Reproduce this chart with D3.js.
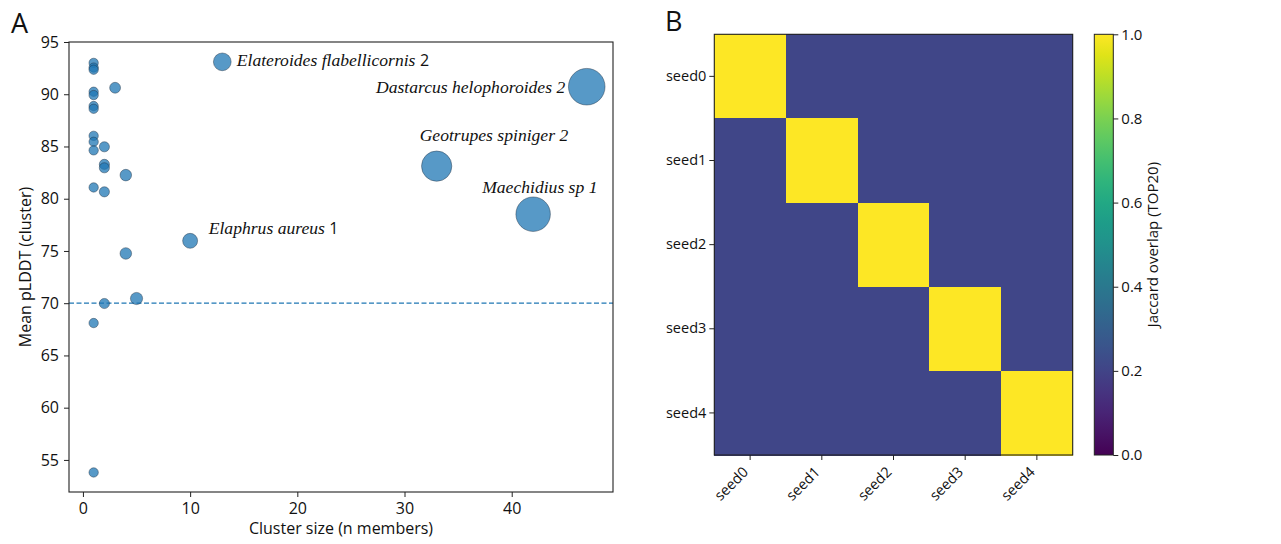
<!DOCTYPE html>
<html>
<head>
<meta charset="utf-8">
<script src="https://cdn.jsdelivr.net/npm/d3@7"></script>
<style>
  html, body { margin: 0; padding: 0; background: #fff; }
  svg { display: block; }
  text { font-family: "Open Sans", "Noto Sans", sans-serif; fill: #111; }
</style>
</head>
<body>
<svg id="chart" width="1281" height="544"></svg>
<script>
// ---------------- DATA ----------------
// Panel A: cluster size vs mean pLDDT
const clusterSize = [1, 1, 1, 1, 1, 1, 1, 1, 1, 1, 1, 1, 1,
                     2, 2, 2, 2, 2, 3, 4, 4, 5, 10, 13, 33, 42, 47];
const meanPLDDT   = [93.0, 92.55, 92.35, 90.24, 89.92, 88.87, 88.61, 86.02, 85.45, 84.63, 81.08, 68.1, 53.8,
                     84.97, 83.29, 82.96, 80.66, 69.97, 90.62, 82.26, 74.76, 70.45, 75.97, 93.1, 83.12, 78.52, 90.72];
const threshold = 70;
const xTicks = [0, 10, 20, 30, 40];
const yTicks = [55, 60, 65, 70, 75, 80, 85, 90, 95];
// annotated clusters (name, count suffix, cluster size, pLDDT)
const labelNames  = ["Elateroides flabellicornis", "Dastarcus helophoroides", "Geotrupes spiniger", "Maechidius sp", "Elaphrus aureus"];
const labelCounts = ["2", "2", "2", "1", "1"];
const labelSizes  = [13, 47, 33, 42, 10];
const labelPLDDT  = [93.1, 90.72, 83.12, 78.52, 75.97];

// Panel B: Jaccard overlap matrix
const seeds = ["seed0", "seed1", "seed2", "seed3", "seed4"];
const row0 = [1.0, 0.21, 0.21, 0.21, 0.21];
const row1 = [0.21, 1.0, 0.21, 0.21, 0.21];
const row2 = [0.21, 0.21, 1.0, 0.21, 0.21];
const row3 = [0.21, 0.21, 0.21, 1.0, 0.21];
const row4 = [0.21, 0.21, 0.21, 0.21, 1.0];
const cbTicks = [0.0, 0.2, 0.4, 0.6, 0.8, 1.0];

// ---------------- STYLE / LAYOUT ----------------
const svg = d3.select("#chart");
const A = {left: 69, right: 613, top: 42, bottom: 492};
const B = {left: 714.3, right: 1072.7, top: 34.3, bottom: 455};
const CB = {left: 1094.3, right: 1113.3};
const pointFill = "#1f77b4";
const tickFont = 16;
// label layout: [dx, dy, anchor, suffixUpright]
const labelLayout = [
  [14.5, 3.8, "start", true],
  [-21.5, 5.8, "end", false],
  [-17, -24.8, "start", false],
  [-51, -21.2, "start", false],
  [18.6, -6.5, "start", true]
];

// ---------------- PANEL A ----------------
const x = d3.scaleLinear().domain([-1.3, 49.45]).range([A.left, A.right]);
const y = d3.scaleLinear().domain([51.93, 95]).range([A.bottom, A.top]);
const rArea = d3.scaleLinear().domain([1, 10, 47]).range([22, 56, 335]);
const r = n => Math.sqrt(rArea(n));

const gA = svg.append("g");

// threshold line
gA.append("line")
  .attr("x1", A.left).attr("x2", A.right)
  .attr("y1", y(threshold)).attr("y2", y(threshold))
  .attr("stroke", pointFill).attr("stroke-width", 1.3)
  .attr("stroke-dasharray", "5,2.5");

// points
const pts = clusterSize.map((n, i) => ({n, v: meanPLDDT[i]}));
gA.append("g").selectAll("circle").data(pts).join("circle")
  .attr("cx", d => x(d.n)).attr("cy", d => y(d.v))
  .attr("r", d => r(d.n))
  .attr("fill", pointFill).attr("fill-opacity", 0.75)
  .attr("stroke", "#1a2a3a").attr("stroke-opacity", 0.7).attr("stroke-width", 0.6);

// frame
gA.append("rect")
  .attr("x", A.left).attr("y", A.top)
  .attr("width", A.right - A.left).attr("height", A.bottom - A.top)
  .attr("fill", "none").attr("stroke", "#222").attr("stroke-width", 1.1);

// axes
const xAxis = d3.axisBottom(x).tickValues(xTicks).tickSize(5).tickPadding(6).tickSizeOuter(0);
const gx = gA.append("g").attr("transform", `translate(0,${A.bottom})`).call(xAxis);
const yAxis = d3.axisLeft(y).tickValues(yTicks).tickSize(5).tickPadding(5).tickSizeOuter(0);
const gy = gA.append("g").attr("transform", `translate(${A.left},0)`).call(yAxis);
[gx, gy].forEach(g => {
  g.select(".domain").remove();
  g.selectAll(".tick line").attr("stroke", "#222").attr("stroke-width", 1);
  g.selectAll(".tick text").style("font-size", tickFont + "px").attr("fill", "#111")
    .style("font-family", '"Open Sans", sans-serif');
});

// axis labels
gA.append("text").attr("x", (A.left + A.right) / 2).attr("y", 534)
  .attr("text-anchor", "middle").style("font-size", "16px").text("Cluster size (n members)");
gA.append("text").attr("transform", `translate(31,${(A.top + A.bottom) / 2}) rotate(-90)`)
  .attr("text-anchor", "middle").style("font-size", "16px").text("Mean pLDDT (cluster)");

// annotations
labelNames.forEach((name, i) => {
  const [dx, dy, anchor, upright] = labelLayout[i];
  const t = gA.append("text")
    .attr("x", x(labelSizes[i]) + dx).attr("y", y(labelPLDDT[i]) + dy)
    .attr("text-anchor", anchor)
    .style("font-family", '"Liberation Serif", "Times New Roman", serif')
    .style("font-size", "17.6px");
  t.append("tspan").style("font-style", "italic").text(name + " ");
  if (upright) {
    t.append("tspan").style("font-family", '"Open Sans", sans-serif').style("font-size", "16px").text(labelCounts[i]);
  } else {
    t.append("tspan").style("font-style", "italic").text(labelCounts[i]);
  }
});

// panel letter
svg.append("text").attr("x", 11).attr("y", 33).style("font-size", "27px").text("A");

// ---------------- PANEL B ----------------
const matrix = [row0, row1, row2, row3, row4];
const bx = d3.scaleBand().domain(seeds).range([B.left, B.right]);
const by = d3.scaleBand().domain(seeds).range([B.top, B.bottom]);
const color = d3.scaleSequential(d3.interpolateViridis).domain([0, 1]);

const gB = svg.append("g");
const cells = [];
matrix.forEach((row, i) => row.forEach((v, j) => cells.push({r: seeds[i], c: seeds[j], v})));
gB.append("g").selectAll("rect").data(cells).join("rect")
  .attr("x", d => bx(d.c)).attr("y", d => by(d.r))
  .attr("width", bx.bandwidth() + 0.6).attr("height", by.bandwidth() + 0.6)
  .attr("shape-rendering", "crispEdges")
  .attr("fill", d => color(d.v));
gB.append("rect")
  .attr("x", B.left).attr("y", B.top)
  .attr("width", B.right - B.left).attr("height", B.bottom - B.top)
  .attr("fill", "none").attr("stroke", "#222").attr("stroke-width", 1.1);

const byAxis = d3.axisLeft(by).tickSize(5).tickPadding(3).tickSizeOuter(0);
const gby = gB.append("g").attr("transform", `translate(${B.left},0)`).call(byAxis);
const bxAxis = d3.axisBottom(bx).tickSize(5).tickPadding(3).tickSizeOuter(0);
const gbx = gB.append("g").attr("transform", `translate(0,${B.bottom})`).call(bxAxis);
[gby, gbx].forEach(g => {
  g.select(".domain").remove();
  g.selectAll(".tick line").attr("stroke", "#222");
  g.selectAll(".tick text").style("font-size", "14.5px").attr("fill", "#111")
    .style("font-family", '"Open Sans", sans-serif');
});
gbx.selectAll(".tick text")
  .attr("text-anchor", "end").attr("dy", null).attr("y", null)
  .attr("transform", "translate(-1,18) rotate(-45)");

// colorbar
const defs = svg.append("defs");
const grad = defs.append("linearGradient").attr("id", "viridis")
  .attr("x1", 0).attr("x2", 0).attr("y1", 1).attr("y2", 0);
d3.range(0, 1.0001, 0.05).forEach(t => {
  grad.append("stop").attr("offset", t).attr("stop-color", d3.interpolateViridis(t));
});
const cy = d3.scaleLinear().domain([0, 1]).range([B.bottom, B.top]);
gB.append("rect").attr("x", CB.left).attr("y", B.top)
  .attr("width", CB.right - CB.left).attr("height", B.bottom - B.top)
  .attr("fill", "url(#viridis)").attr("stroke", "#222").attr("stroke-width", 1);
const cbAxis = d3.axisRight(cy).tickValues(cbTicks).tickFormat(d3.format(".1f")).tickSize(5).tickPadding(3).tickSizeOuter(0);
const gcb = gB.append("g").attr("transform", `translate(${CB.right},0)`).call(cbAxis);
gcb.select(".domain").remove();
gcb.selectAll(".tick line").attr("stroke", "#222");
gcb.selectAll(".tick text").style("font-size", "15px").attr("fill", "#111")
  .style("font-family", '"Open Sans", sans-serif');
gB.append("text").attr("transform", `translate(1157.5,${(B.top + B.bottom) / 2}) rotate(-90)`)
  .attr("text-anchor", "middle").style("font-size", "15px").text("Jaccard overlap (TOP20)");

svg.append("text").attr("x", 665).attr("y", 31).style("font-size", "27px").text("B");
</script>
</body>
</html>
